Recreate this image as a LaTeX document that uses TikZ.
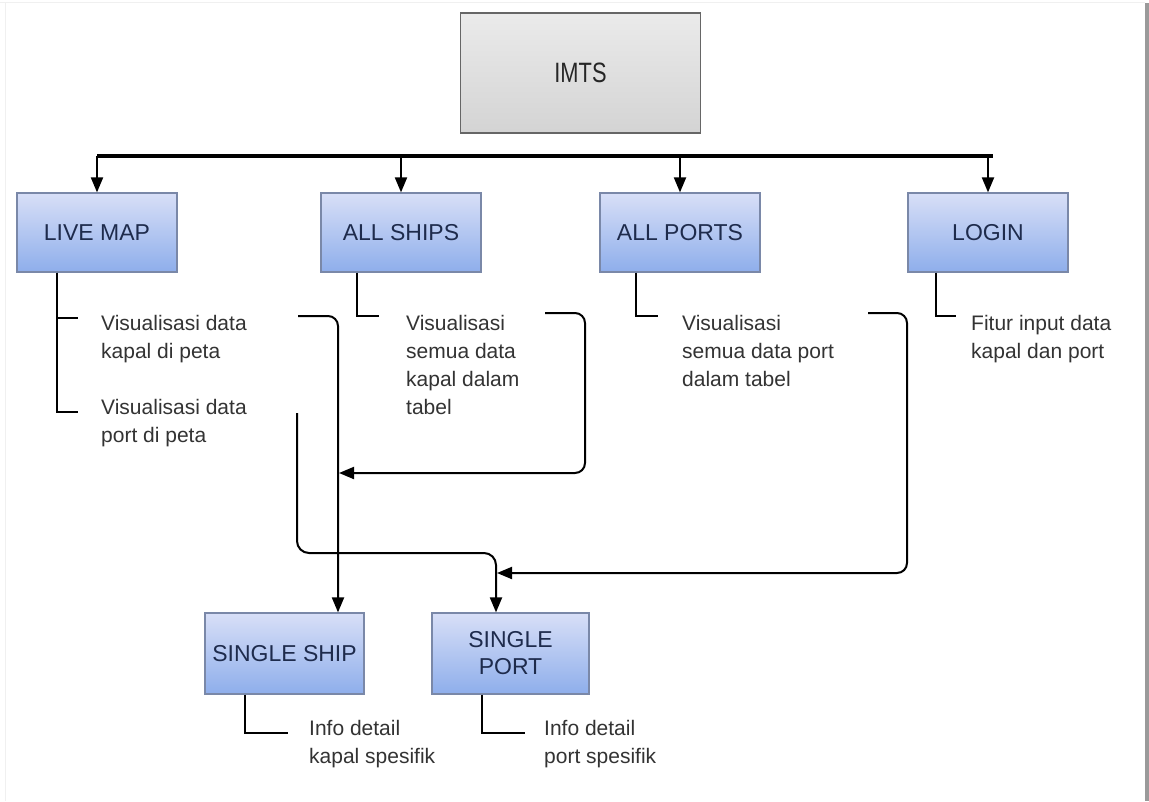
\documentclass[tikz,border=0pt]{standalone}
\usepackage{fontspec}
\setmainfont{Liberation Sans}
\newfontfamily\condfont[FakeStretch=0.78]{Liberation Sans}
\usetikzlibrary{arrows.meta,calc}
\definecolor{boxtop}{HTML}{D8DFF7}
\definecolor{boxbot}{HTML}{8EAEEB}
\definecolor{boxedge}{HTML}{7A88A8}
\definecolor{labelc}{HTML}{1E2B4C}
\definecolor{txt}{HTML}{333333}
\definecolor{shadowc}{HTML}{9A9A9A}
\begin{document}
\begin{tikzpicture}[x=1pt,y=-1pt,
  mod/.style={draw=boxedge, line width=1.2pt, top color=boxtop, bottom color=boxbot,
    minimum width=160pt, minimum height=79pt, inner sep=2pt,
    font=\fontsize{23}{27}\selectfont, text=labelc, align=center},
  root/.style={draw=black!60, line width=1.5pt, top color=black!8, bottom color=black!17,
    minimum width=240pt, minimum height=120pt, font=\condfont\fontsize{28}{30}\selectfont, text=black!85},
  txtn/.style={anchor=north west, inner sep=0pt, align=left,
    font=\fontsize{21}{28}\selectfont, text=txt},
  arr/.style={-{Triangle[length=15pt,width=12pt]}, line width=2pt},
  tree/.style={line width=2pt},
  bus/.style={line width=3.5pt}]
\useasboundingbox (0,0) rectangle (1149,801);
\fill[white] (0,0) rectangle (1149,801);
\fill[shadowc] (1145,3) rectangle (1149,801);
\draw[black!6, line width=1pt] (5,3) -- (5,801);
\draw[black!6, line width=1pt] (0,2) -- (1145,2);

% nodes
\node[root] (imts) at (580.5,73) {IMTS};
\node[mod] (live) at (97,232.5) {LIVE MAP};
\node[mod] (ships) at (401,232.5) {ALL SHIPS};
\node[mod] (ports) at (680,232.5) {ALL PORTS};
\node[mod] (login) at (988,232.5) {LOGIN};
\node[mod, minimum width=159pt, minimum height=81pt] (ship) at (284.5,653.5) {SINGLE SHIP};
\node[mod, minimum width=157pt, minimum height=81pt] (port) at (510.5,653.5) {SINGLE\\PORT};

\node[txtn] (t1) at (101,315) {Visualisasi data\\kapal di peta};
\node[txtn] (t2) at (101,399) {Visualisasi data\\port di peta};
\node[txtn] (t3) at (406,315) {Visualisasi\\semua data\\kapal dalam\\tabel};
\node[txtn] (t4) at (682,315) {Visualisasi\\semua data port\\dalam tabel};
\node[txtn] (t5) at (971,315) {Fitur input data\\kapal dan port};
\node[txtn] (t6) at (309,720) {Info detail\\kapal spesifik};
\node[txtn] (t7) at (544,720) {Info detail\\port spesifik};

% bus
\coordinate (bus) at (0,156);
\coordinate (busR) at (993,156);
\draw[bus] (live.north |- bus) -- (busR);
\foreach \n in {live,ships,ports,login}
  \draw[arr] (\n.north |- bus) -- (\n.north);

% tree lines
\draw[tree] ([xshift=-40pt]live.south) |- ($(t1.north west)+(-23,3)$);
\draw[tree] ([xshift=-40pt]live.south) |- ($(t2.north west)+(-23,13)$);
\draw[tree] ([xshift=-44pt]ships.south) |- ($(t3.north west)+(-27,1)$);
\draw[tree] ([xshift=-44pt]ports.south) |- ($(t4.north west)+(-24,1)$);
\draw[tree] ([xshift=-52pt]login.south) |- ($(t5.north west)+(-15,1)$);
\draw[tree] ([xshift=-39.5pt]ship.south) |- ($(t6.north west)+(-21,13)$);
\draw[tree] ([xshift=-28.5pt]port.south) |- ($(t7.north west)+(-19,13)$);

% cross connectors
\coordinate (c1) at (298,316);
\coordinate (c2) at (297,413);
\coordinate (c3) at (545,313);
\coordinate (c4) at (868,313);
\coordinate (k2) at (496,553);
\coordinate (k3) at (585,473);
\coordinate (k4) at (907,573);
\coordinate (m1) at (339,473);
\coordinate (m2) at (497,573);
\draw[arr, rounded corners=10pt] (c1) -| ([xshift=53.5pt]ship.north);
\draw[arr, rounded corners=10pt] (c3) -| (k3) -- (m1);
\draw[arr, rounded corners=12pt] (c2) |- (k2) -- ([xshift=-14.5pt]port.north);
\draw[arr, rounded corners=10pt] (c4) -| (k4) -- (m2);
\end{tikzpicture}
\end{document}
